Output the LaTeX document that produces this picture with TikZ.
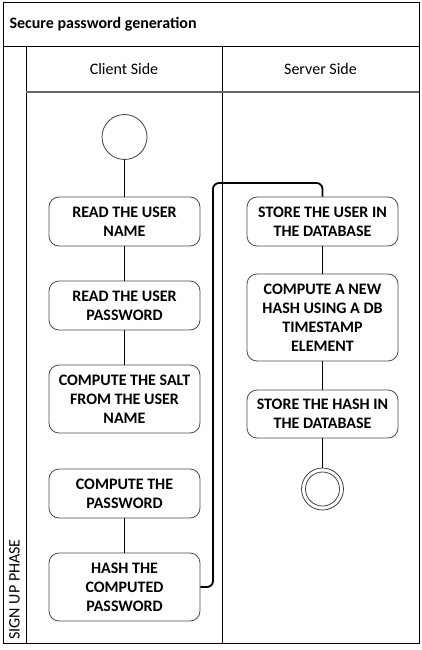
\documentclass[tikz,border=0pt]{standalone}
\usepackage{fontspec}
\setmainfont{Carlito}
\begin{document}
\begin{tikzpicture}[x=1pt,y=-1pt,
  lane/.style={draw=black, line width=0.9pt},
  act/.style={draw=black!70, line width=0.8pt, rounded corners=10pt, minimum width=151pt, align=center, font=\fontsize{16}{19}\selectfont\bfseries, inner sep=2pt},
  flow/.style={draw=black, line width=0.7pt},
  initst/.style={circle, draw=black!75, line width=0.8pt, minimum size=45pt, inner sep=0pt},
]
\useasboundingbox (0,0) rectangle (422,650);
% swimlane frame
\draw[lane] (3,2) rectangle (419,643);
\draw[lane] (3,46) -- (419,46);
\draw[lane] (26,46) -- (26,643);
\draw[lane] (222,46) -- (222,643);
\draw[draw=black!60, line width=1.4pt] (26,92) -- (419,92);
\node[anchor=west, font=\fontsize{16}{19}\selectfont\bfseries] (title) at (6,24) {Secure password generation};
\node[font=\fontsize{16}{19}\selectfont] (cs) at (124,69) {Client Side};
\node[font=\fontsize{16}{19}\selectfont] (ss) at (320.5,69) {Server Side};
\node[rotate=90, anchor=west, font=\fontsize{16}{19}\selectfont] (phase) at (14.5,643) {SIGN UP PHASE};
% client lane
\node[initst] (start) at (124.5,137) {};
\node[act, minimum height=49pt] (b1) at (124.5,221.5) {READ THE USER\\NAME};
\node[act, minimum height=49pt] (b2) at (124.5,305.5) {READ THE USER\\PASSWORD};
\node[act, minimum height=68pt] (b3) at (124.5,399) {COMPUTE THE SALT\\FROM THE USER\\NAME};
\node[act, minimum height=49pt] (b4) at (124.5,493.5) {COMPUTE THE\\PASSWORD};
\node[act, minimum height=68pt] (b5) at (124.5,587) {HASH THE\\COMPUTED\\PASSWORD};
% server lane
\node[act, minimum height=49pt] (s1) at (322.5,221.5) {STORE THE USER IN\\THE DATABASE};
\node[act, minimum height=87pt] (s2) at (322.5,317.5) {COMPUTE A NEW\\HASH USING A DB\\TIMESTAMP\\ELEMENT};
\node[act, minimum height=48pt] (s3) at (322.5,414) {STORE THE HASH IN\\THE DATABASE};
\node[circle, draw=black!75, line width=0.8pt, minimum size=42pt, inner sep=0pt] (end) at (322.5,489) {};
\node[circle, draw=black!75, line width=0.8pt, minimum size=34pt, inner sep=0pt] (endin) at (322.5,489) {};
% connectors
\draw[flow] (start) -- (b1);
\draw[flow] (b1) -- (b2);
\draw[flow] (b2) -- (b3);
\draw[flow] (b4) -- (b5);
\draw[flow] (s1) -- (s2);
\draw[flow] (s2) -- (s3);
\draw[flow] (s3) -- (end);
\coordinate (k) at (213,183);
\draw[draw=black, line width=1.8pt, rounded corners=6pt] (b5.east) -| (k) -| (s1.north);
\end{tikzpicture}
\end{document}
